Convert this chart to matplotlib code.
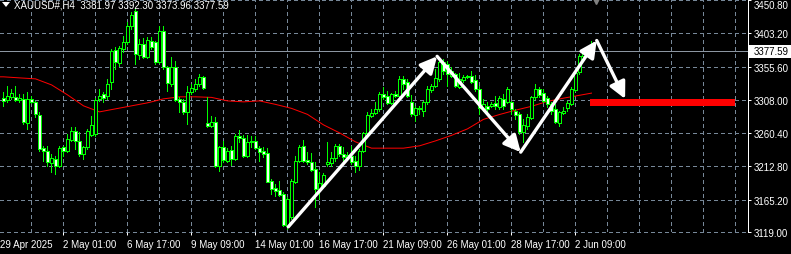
import matplotlib
matplotlib.use('Agg')
import matplotlib.pyplot as plt
from matplotlib.patches import Rectangle, Polygon

# ---------------- data ----------------
title_text = "XAUUSD#,H4  3381.97 3392.30 3373.96 3377.59"
last_price = 3377.59

opens = [3310.8, 3308.0, 3312.3, 3312.3, 3308.0, 3309.4, 3275.1, 3309.4, 3305.1, 3286.5,
         3239.3, 3235.0, 3217.9, 3223.6, 3213.6, 3240.8, 3235.0, 3250.8, 3263.6, 3249.3,
         3230.8, 3240.8, 3257.9, 3259.4, 3309.4, 3316.6, 3313.7, 3333.7, 3379.5, 3360.9,
         3380.9, 3390.9, 3413.8, 3435.2, 3372.3, 3388.1, 3369.5, 3392.3, 3390.9, 3362.3,
         3406.6, 3355.2, 3330.9, 3355.2, 3309.4, 3305.1, 3290.8, 3319.4, 3323.7, 3330.9,
         3340.9, 3275.1, 3270.8, 3276.5, 3213.6, 3240.8, 3220.7, 3236.5, 3223.6, 3256.5,
         3253.6, 3227.9, 3249.3, 3249.3, 3239.3, 3235.0, 3232.2, 3192.1, 3182.1, 3179.3,
         3173.6, 3127.8, 3140.7, 3190.7, 3220.7, 3242.2, 3222.2, 3219.3, 3209.3, 3180.7,
         3185.0, 3216.5, 3217.9, 3225.0, 3242.2, 3230.8, 3226.5, 3227.9, 3220.7, 3213.6,
         3235.0, 3260.8, 3285.1, 3289.4, 3295.1, 3316.6, 3313.7, 3303.7, 3316.6, 3313.7,
         3338.0, 3333.7, 3305.1, 3286.5, 3296.5, 3292.2, 3305.1, 3322.3, 3328.0, 3338.0,
         3362.3, 3359.5, 3342.3, 3345.2, 3326.6, 3336.6, 3342.3, 3342.3, 3336.6, 3323.7,
         3295.1, 3299.4, 3299.4, 3303.7, 3298.0, 3309.4, 3305.1, 3305.1, 3292.2, 3288.0,
         3262.2, 3270.8, 3282.2, 3312.3, 3323.7, 3318.0, 3310.8, 3302.3, 3295.1, 3275.1,
         3289.4, 3296.5, 3302.3, 3322.3, 3348.0, 3370.9, 3375.2, 3381.97]
highs = [3319.4, 3328.0, 3323.7, 3328.0, 3316.6, 3316.6, 3319.4, 3313.7, 3306.5, 3290.8,
         3242.2, 3242.2, 3230.8, 3227.9, 3242.2, 3242.2, 3259.4, 3269.4, 3269.4, 3262.2,
         3242.2, 3266.5, 3285.1, 3310.8, 3323.7, 3319.4, 3338.0, 3380.9, 3383.8, 3385.2,
         3399.5, 3419.5, 3433.8, 3438.1, 3395.2, 3396.6, 3398.1, 3398.1, 3392.3, 3413.8,
         3413.8, 3356.6, 3369.5, 3363.7, 3312.3, 3309.4, 3328.0, 3330.9, 3338.0, 3345.2,
         3342.3, 3312.3, 3285.1, 3283.7, 3242.2, 3249.3, 3239.3, 3242.2, 3259.4, 3265.1,
         3257.9, 3257.9, 3256.5, 3256.5, 3242.2, 3240.8, 3239.3, 3195.0, 3187.9, 3192.1,
         3176.4, 3169.3, 3195.0, 3227.9, 3243.6, 3250.8, 3233.6, 3232.2, 3219.3, 3205.0,
         3203.6, 3247.9, 3233.6, 3245.1, 3245.1, 3240.8, 3233.6, 3242.2, 3227.9, 3237.9,
         3262.2, 3290.8, 3295.1, 3305.1, 3319.4, 3326.6, 3320.8, 3318.0, 3320.8, 3342.3,
         3342.3, 3338.0, 3315.1, 3299.4, 3299.4, 3306.5, 3328.0, 3330.9, 3352.3, 3365.2,
         3366.6, 3363.7, 3355.2, 3346.6, 3346.6, 3343.7, 3343.7, 3349.4, 3343.7, 3328.0,
         3309.4, 3305.1, 3305.1, 3313.7, 3313.7, 3316.6, 3326.6, 3306.5, 3295.1, 3290.8,
         3280.8, 3288.0, 3313.7, 3330.9, 3326.6, 3323.7, 3313.7, 3305.1, 3302.3, 3292.2,
         3298.0, 3306.5, 3326.6, 3349.4, 3373.8, 3378.0, 3385.2, 3392.30]
lows = [3299.4, 3305.1, 3309.4, 3306.5, 3305.1, 3273.7, 3266.5, 3303.7, 3283.7, 3235.0,
        3220.7, 3213.6, 3205.0, 3202.2, 3212.2, 3227.9, 3233.6, 3249.3, 3237.9, 3227.9,
        3223.6, 3237.9, 3256.5, 3256.5, 3306.5, 3305.1, 3309.4, 3323.7, 3352.3, 3356.6,
        3376.6, 3388.1, 3409.5, 3359.5, 3366.6, 3368.0, 3368.0, 3380.9, 3359.5, 3360.9,
        3352.3, 3320.8, 3328.0, 3306.5, 3290.8, 3288.0, 3273.7, 3316.6, 3320.8, 3328.0,
        3323.7, 3269.4, 3269.4, 3212.2, 3206.4, 3219.3, 3219.3, 3215.0, 3222.2, 3247.9,
        3226.5, 3226.5, 3240.8, 3237.9, 3220.7, 3226.5, 3190.7, 3173.6, 3170.7, 3170.7,
        3127.8, 3123.5, 3137.8, 3189.3, 3219.3, 3219.3, 3216.5, 3206.4, 3155.0, 3166.4,
        3183.6, 3213.6, 3213.6, 3220.7, 3227.9, 3220.7, 3223.6, 3216.5, 3205.0, 3207.9,
        3233.6, 3259.4, 3283.7, 3288.0, 3292.2, 3309.4, 3302.3, 3302.3, 3312.3, 3312.3,
        3323.7, 3312.3, 3285.1, 3277.9, 3288.0, 3285.1, 3302.3, 3319.4, 3326.6, 3335.1,
        3345.2, 3328.0, 3340.9, 3326.6, 3325.1, 3333.7, 3339.4, 3332.3, 3320.8, 3288.0,
        3292.2, 3290.8, 3298.0, 3295.1, 3295.1, 3295.1, 3303.7, 3288.0, 3280.8, 3259.4,
        3247.9, 3266.5, 3280.8, 3309.4, 3312.3, 3305.1, 3298.0, 3288.0, 3275.1, 3270.8,
        3288.0, 3292.2, 3300.8, 3320.8, 3345.2, 3368.0, 3373.8, 3373.96]
closes = [3306.5, 3313.7, 3318.0, 3308.0, 3310.8, 3276.5, 3309.4, 3305.1, 3288.0, 3237.9,
          3235.0, 3219.3, 3225.0, 3213.6, 3239.3, 3235.0, 3252.2, 3263.6, 3249.3, 3230.8,
          3240.8, 3263.6, 3272.2, 3308.0, 3313.7, 3310.8, 3330.9, 3378.0, 3362.3, 3382.3,
          3390.9, 3413.8, 3429.5, 3373.8, 3388.1, 3369.5, 3393.8, 3383.8, 3362.3, 3406.6,
          3355.2, 3332.3, 3355.2, 3308.0, 3305.1, 3290.8, 3319.4, 3325.1, 3330.9, 3340.9,
          3325.1, 3270.8, 3276.5, 3213.6, 3240.8, 3222.2, 3235.0, 3223.6, 3256.5, 3253.6,
          3227.9, 3247.9, 3247.9, 3239.3, 3233.6, 3230.8, 3190.7, 3180.7, 3177.8, 3172.1,
          3129.2, 3166.4, 3192.1, 3220.7, 3240.8, 3220.7, 3219.3, 3207.9, 3180.7, 3189.3,
          3200.7, 3219.3, 3225.0, 3242.2, 3230.8, 3226.5, 3229.3, 3219.3, 3213.6, 3235.0,
          3260.8, 3286.5, 3289.4, 3295.1, 3316.6, 3312.3, 3303.7, 3316.6, 3313.7, 3338.0,
          3330.9, 3313.7, 3288.0, 3296.5, 3295.1, 3305.1, 3323.7, 3328.0, 3339.4, 3362.3,
          3349.4, 3345.2, 3349.4, 3328.0, 3338.0, 3340.9, 3340.9, 3333.7, 3323.7, 3296.5,
          3302.3, 3295.1, 3302.3, 3299.4, 3310.8, 3299.4, 3323.7, 3295.1, 3286.5, 3262.2,
          3272.2, 3283.7, 3312.3, 3323.7, 3315.1, 3306.5, 3302.3, 3292.2, 3276.5, 3290.8,
          3292.2, 3303.7, 3323.7, 3346.6, 3370.9, 3376.6, 3382.3, 3377.59]

# moving average (red), read at sampled bars
ma_idx = [-1, 0, 4, 8, 12, 16, 20, 24, 28, 32, 36, 40, 44, 48, 52, 56, 60, 64, 68, 72,
          76, 80, 84, 88, 92, 96, 100, 104, 108, 112, 116, 120, 124, 128, 132, 136,
          140, 144, 147]
ma_val = [3340.9, 3340.9, 3339.4, 3338.0, 3329.4, 3315.1, 3299.4, 3290.8, 3295.1, 3299.4,
          3303.7, 3309.4, 3312.3, 3312.3, 3311.5, 3306.5, 3305.1, 3306.5, 3301.5, 3295.8,
          3287.2, 3272.2, 3260.8, 3247.9, 3238.9, 3238.9, 3238.9, 3242.2, 3249.3, 3257.2,
          3266.5, 3280.1, 3287.0, 3293.2, 3298.7, 3305.8, 3310.4, 3314.5, 3317.6]

# hand-drawn zigzag arrows (bar index, price)
zig_x = [71.2, 108.4, 129.3, 148.3, 155.4]
zig_y = [3126.4, 3370.2, 3233.2, 3392.8, 3309.4]

# red target zone
zone_x = [146.6, 183.0]
zone_y = [3299.7, 3309.3]

price_levels = [3450.80, 3403.20, 3355.60, 3308.00, 3260.40, 3212.80, 3165.20, 3119.00]
time_labels = ["29 Apr 2025", "2 May 01:00", "6 May 17:00", "9 May 09:00", "14 May 01:00",
               "16 May 17:00", "21 May 09:00", "26 May 01:00", "28 May 17:00", "2 Jun 09:00"]
time_pos = [-0.9, 15, 31, 47, 63, 79, 95, 111, 127, 143]
grid_pos = [7 + 8 * k for k in range(23)]
shift_marker = 148.1

# ---------------- drawing ----------------
W, H = 791, 255
PX = 72 / 100.0
FONT = 'Liberation Sans'
GRID = '#778899'
GREEN = '#00ff00'

fig = plt.figure(figsize=(W / 100, H / 100), dpi=100, facecolor='black')
ax = fig.add_axes([0, 22 / H, 748 / W, 233 / H], facecolor='black')
ax.set_xlim(-0.875, 186.125)
ax.set_ylim(3119.0, 3452.2)

for g in grid_pos:
    ax.axvline(g, color=GRID, lw=PX, dashes=(4, 3), zorder=1, antialiased=False)
for p in price_levels:
    ax.axhline(p, color=GRID, lw=PX, dashes=(4, 3), zorder=1, clip_on=False,
               antialiased=False)
ax.axhline(last_price, color='#8c96a2', lw=PX, zorder=1, antialiased=False)

# moving average
ax.plot(ma_idx, ma_val, color='#ff0000', lw=PX, zorder=2)

# candles
for i, (o, h, l, c) in enumerate(zip(opens, highs, lows, closes)):
    ax.vlines(i, l, h, color=GREEN, lw=PX, zorder=3, antialiased=False)
    lo, hi = min(o, c), max(o, c)
    fc = 'black' if c > o else '#f0fff0'
    ax.add_patch(Rectangle((i - 0.4, lo), 0.8, max(hi - lo, 0.5), facecolor=fc,
                           edgecolor=GREEN, lw=PX, zorder=4, antialiased=False))

# red zone
ax.add_patch(Rectangle((zone_x[0], zone_y[0]), zone_x[1] - zone_x[0], zone_y[1] - zone_y[0],
                       facecolor='#ff0000', edgecolor='none', zorder=5))

# arrows
for k in range(len(zig_x) - 1):
    ax.annotate('', xy=(zig_x[k + 1], zig_y[k + 1]), xytext=(zig_x[k], zig_y[k]),
                arrowprops=dict(arrowstyle='-|>,head_length=1.0,head_width=0.5',
                                color='white', lw=2.4, shrinkA=0, shrinkB=0,
                                mutation_scale=10),
                zorder=6)

# axes frame
for s in ['left', 'top', 'bottom']:
    ax.spines[s].set_visible(False)
ax.spines['right'].set_color('white')
ax.spines['right'].set_linewidth(PX)

ax.yaxis.tick_right()
ax.set_yticks(price_levels)
ax.set_yticklabels(['%.2f' % p for p in price_levels])
ax.tick_params(axis='y', colors='white', length=3 * PX, width=PX, pad=3 * PX,
               labelsize=7)
for t in ax.get_yticklabels():
    t.set_fontfamily(FONT)
    if t.get_text() == '3450.80':
        t.set_va('top')

ax.set_xticks(time_pos[1:])
ax.set_xticklabels([])
ax.tick_params(axis='x', colors='white', length=3 * PX, width=PX)

for lab, pos in zip(time_labels, time_pos):
    ax.text(pos, -12 / 233, lab, transform=ax.get_xaxis_transform(), color='white',
            fontsize=7, family=FONT, ha='left', va='center', clip_on=False)

# last price label
fig.text(754 / W, 1 - 52.5 / H, '%.2f' % last_price, color='black', fontsize=7, family=FONT,
         ha='left', va='center', zorder=10)
fig.patches.append(Rectangle((749 / W, 1 - 59 / H), 42 / W, 13 / H, facecolor='white',
                             edgecolor='none', transform=fig.transFigure, figure=fig, zorder=9))

# shift marker
ax.plot([shift_marker], [1.0], marker='v', ms=7, color='#808080',
        transform=ax.get_xaxis_transform(), clip_on=False, zorder=7)

# header
fig.patches.append(Polygon([(2 / W, 1 - 3 / H), (10 / W, 1 - 3 / H), (6 / W, 1 - 8 / H)],
                           closed=True, facecolor='white', edgecolor='none',
                           transform=fig.transFigure, figure=fig))
fig.text(14 / W, 1 - 6 / H, title_text, color='white', fontsize=7, family=FONT,
         ha='left', va='center')

fig.savefig('out.png', dpi=100, facecolor='black')
